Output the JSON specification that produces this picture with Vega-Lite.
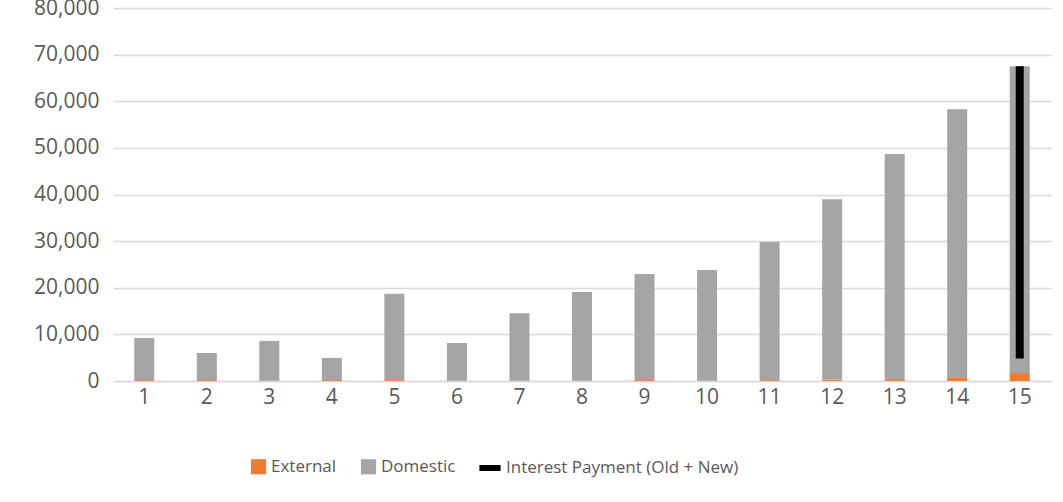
{
  "$schema": "https://vega.github.io/schema/vega-lite/v6.json",
  "width": 938,
  "height": 373,
  "autosize": {"type": "none"},
  "padding": {"left": 113, "top": 8, "right": 12, "bottom": 121},
  "background": "white",
  "config": {
    "view": {"stroke": null},
    "font": "Open Sans",
    "axis": {"labelFont": "Open Sans", "labelFontSize": 21, "labelColor": "#595959", "gridColor": "#D9D9D9", "gridWidth": 1.5, "ticks": false, "domain": false},
    "legend": {"labelFont": "Open Sans", "labelFontSize": 17, "labelColor": "#595959", "direction": "horizontal", "title": null, "labelLimit": 400}
  },
  "datasets": {
    "bars": [
      {"cat": 1, "series": "External", "value": 200},
      {"cat": 1, "series": "Domestic", "value": 9000},
      {"cat": 2, "series": "External", "value": 200},
      {"cat": 2, "series": "Domestic", "value": 5800},
      {"cat": 3, "series": "External", "value": 50},
      {"cat": 3, "series": "Domestic", "value": 8550},
      {"cat": 4, "series": "External", "value": 200},
      {"cat": 4, "series": "Domestic", "value": 4750},
      {"cat": 5, "series": "External", "value": 200},
      {"cat": 5, "series": "Domestic", "value": 18500},
      {"cat": 6, "series": "External", "value": 50},
      {"cat": 6, "series": "Domestic", "value": 8100},
      {"cat": 7, "series": "External", "value": 50},
      {"cat": 7, "series": "Domestic", "value": 14500},
      {"cat": 8, "series": "External", "value": 50},
      {"cat": 8, "series": "Domestic", "value": 19050},
      {"cat": 9, "series": "External", "value": 200},
      {"cat": 9, "series": "Domestic", "value": 22750},
      {"cat": 10, "series": "External", "value": 50},
      {"cat": 10, "series": "Domestic", "value": 23750},
      {"cat": 11, "series": "External", "value": 200},
      {"cat": 11, "series": "Domestic", "value": 29600},
      {"cat": 12, "series": "External", "value": 300},
      {"cat": 12, "series": "Domestic", "value": 38700},
      {"cat": 13, "series": "External", "value": 400},
      {"cat": 13, "series": "Domestic", "value": 48300},
      {"cat": 14, "series": "External", "value": 800},
      {"cat": 14, "series": "Domestic", "value": 57500},
      {"cat": 15, "series": "External", "value": 1700},
      {"cat": 15, "series": "Domestic", "value": 65800}
    ],
    "interest": [
      {"cat": 15, "series": "Interest Payment (Old + New)", "value": 4800},
      {"cat": 15, "series": "Interest Payment (Old + New)", "value": 67500}
    ]
  },
  "encoding": {
    "x": {
      "field": "cat", "type": "ordinal",
      "scale": {"domain": [1,2,3,4,5,6,7,8,9,10,11,12,13,14,15], "paddingInner": 0.68, "paddingOuter": 0.34},
      "axis": {"title": null, "labelAngle": 0, "labelPadding": 5, "domain": true, "domainColor": "#D9D9D9", "domainWidth": 1.5, "grid": false}
    }
  },
  "layer": [
    {
      "data": {"name": "bars"},
      "mark": {"type": "bar"},
      "encoding": {
        "y": {
          "field": "value", "type": "quantitative", "stack": "zero",
          "scale": {"domain": [0, 80000], "nice": false},
          "axis": {"title": null, "values": [0,10000,20000,30000,40000,50000,60000,70000,80000], "format": ",.0f", "labelPadding": 14, "grid": true}
        },
        "color": {
          "field": "series", "type": "nominal",
          "scale": {"domain": ["External", "Domestic"], "range": ["#ED7D31", "#A5A5A5"]},
          "legend": {"orient": "none", "legendX": 137, "legendY": 450, "symbolType": "square", "symbolSize": 230, "symbolStrokeWidth": 0, "symbolOpacity": 1, "columnPadding": 23, "labelOffset": 4}
        },
        "order": {"field": "series", "sort": "descending"}
      }
    },
    {
      "data": {"name": "interest"},
      "mark": {"type": "line", "strokeWidth": 8, "strokeCap": "butt"},
      "encoding": {
        "y": {
          "field": "value", "type": "quantitative",
          "axis": {"title": null, "values": [0,10000,20000,30000,40000,50000,60000,70000,80000], "format": ",.0f", "labelPadding": 14, "grid": true}
        },
        "stroke": {
          "field": "series", "type": "nominal",
          "scale": {"domain": ["Interest Payment (Old + New)"], "range": ["#000000"]},
          "legend": {"orient": "none", "legendX": 363, "legendY": 446, "symbolType": "stroke", "symbolStrokeWidth": 6, "symbolSize": 450, "labelOffset": 2}
        }
      }
    }
  ]
}
